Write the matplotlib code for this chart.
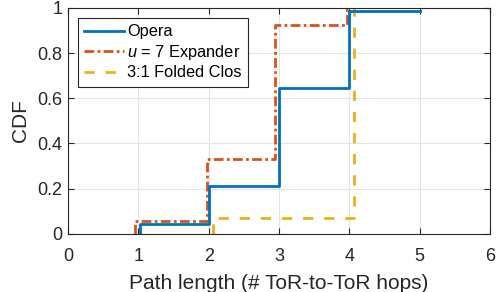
import matplotlib
matplotlib.use("Agg")
import matplotlib.pyplot as plt

plt.rcParams['font.family'] = ['Liberation Sans', 'DejaVu Sans']
plt.rcParams['mathtext.fontset'] = 'custom'
plt.rcParams['mathtext.rm'] = 'Liberation Sans'
plt.rcParams['mathtext.it'] = 'Liberation Sans:italic'

# step points (x where the CDF jumps, CDF level after the jump)
opera_x = [1.02, 1.02, 2.0, 3.0, 4.0, 5.0]
opera_y = [0.0, 0.045, 0.213, 0.645, 0.988, 0.988]

expander_x = [0.95, 0.95, 1.97, 2.95, 3.96, 4.0]
expander_y = [0.0, 0.057, 0.33, 0.925, 0.993, 0.993]

clos_x = [2.06, 2.06, 4.06]
clos_y = [0.0, 0.072, 1.0]

xticks = [0, 1, 2, 3, 4, 5, 6]
yticks = [0, 0.2, 0.4, 0.6, 0.8, 1]
ytick_labels = ['0', '0.2', '0.4', '0.6', '0.8', '1']

fig = plt.figure(figsize=(4.96, 2.92), dpi=100)
ax = fig.add_axes([0.137, 0.199, 0.851, 0.774])

ax.plot(opera_x, opera_y, drawstyle='steps-post', color='#0072BD', lw=2.0,
        label='Opera', zorder=3)
ax.plot(expander_x, expander_y, drawstyle='steps-post', color='#D95319', lw=2.0,
        ls=(0, (3.5, 1.2, 1.0, 1.2)), label='$u$ = 7 Expander', zorder=2)
ax.plot(clos_x, clos_y, drawstyle='steps-post', color='#EDB120', lw=2.0,
        ls=(0, (3.7, 3.9)), label='3:1 Folded Clos', zorder=2)

ax.set_xlim(0, 6)
ax.set_ylim(0, 1)
ax.set_xticks(xticks)
ax.set_yticks(yticks)
ax.set_yticklabels(ytick_labels)
ax.grid(True, color='#e3e3e3', lw=0.8)
ax.set_axisbelow(True)
ax.tick_params(direction='in', top=True, right=True, length=4, width=0.8,
               labelsize=13, colors='#262626')
ax.tick_params(axis='x', pad=10.5)
ax.tick_params(axis='y', pad=4)
for s in ax.spines.values():
    s.set_color('#262626')
    s.set_linewidth(0.8)

ax.set_xlabel('Path length (# ToR-to-ToR hops)', fontsize=15, color='#262626', labelpad=6)
ax.set_ylabel('CDF', fontsize=15, color='#262626', labelpad=5)

leg = ax.legend(loc='upper left', fontsize=11.8, fancybox=False, framealpha=1,
                edgecolor='#262626', handlelength=2.45, handletextpad=0.15,
                borderpad=0.4, labelspacing=0.22, borderaxespad=0.6)
leg.get_frame().set_linewidth(0.8)

fig.savefig('out.png', dpi=100)
